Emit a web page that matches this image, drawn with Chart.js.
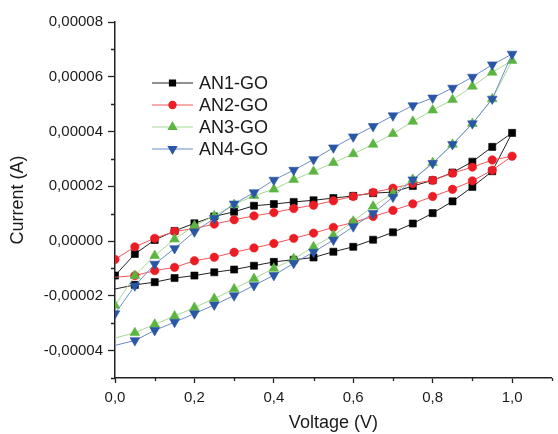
<!DOCTYPE html>
<html>
<head>
<meta charset="utf-8">
<script src="https://cdn.jsdelivr.net/npm/chart.js@4.4.1/dist/chart.umd.min.js"></script>
<style>
  body { margin: 0; background: #fff; }
  #wrap { width: 558px; height: 434px; }
</style>
</head>
<body>
<div id="wrap"><canvas id="cv" width="558" height="434"></canvas></div>
<script>
// sweep: forward 0 -> 1 V, then back 1 -> 0 V
const voltFwd = [0, 0.05, 0.10, 0.15, 0.20, 0.25, 0.30, 0.35, 0.40, 0.45, 0.50,
                 0.55, 0.60, 0.65, 0.70, 0.75, 0.80, 0.85, 0.90, 0.95, 1.00];
const voltRev = [0.95, 0.90, 0.85, 0.80, 0.75, 0.70, 0.65, 0.60, 0.55, 0.50,
                 0.45, 0.40, 0.35, 0.30, 0.25, 0.20, 0.15, 0.10, 0.05, 0];

const names = ['AN1-GO', 'AN2-GO', 'AN3-GO', 'AN4-GO'];

// current (A)
const an1Fwd = [-1.75e-5, -1.60e-5, -1.50e-5, -1.35e-5, -1.26e-5, -1.14e-5, -1.04e-5, -0.90e-5, -0.76e-5, -0.68e-5, -0.60e-5,
                -0.39e-5, -0.21e-5, 0.05e-5, 0.32e-5, 0.64e-5, 1.02e-5, 1.45e-5, 1.98e-5, 2.55e-5, 3.95e-5];
const an1Rev = [3.44e-5, 2.90e-5, 2.50e-5, 2.22e-5, 2.01e-5, 1.79e-5, 1.75e-5, 1.65e-5, 1.57e-5, 1.49e-5,
                1.43e-5, 1.35e-5, 1.29e-5, 1.07e-5, 0.90e-5, 0.65e-5, 0.37e-5, 0.04e-5, -0.47e-5, -1.26e-5];

const an2Fwd = [-1.32e-5, -1.26e-5, -1.08e-5, -0.96e-5, -0.72e-5, -0.59e-5, -0.41e-5, -0.25e-5, -0.09e-5, 0.10e-5, 0.29e-5,
                0.50e-5, 0.68e-5, 0.90e-5, 1.12e-5, 1.36e-5, 1.63e-5, 1.89e-5, 2.20e-5, 2.59e-5, 3.10e-5];
const an2Rev = [2.96e-5, 2.70e-5, 2.48e-5, 2.22e-5, 2.10e-5, 1.93e-5, 1.78e-5, 1.63e-5, 1.47e-5, 1.31e-5,
                1.19e-5, 1.04e-5, 0.92e-5, 0.78e-5, 0.62e-5, 0.46e-5, 0.35e-5, 0.10e-5, -0.21e-5, -0.67e-5];

const an3Fwd = [-3.54e-5, -3.35e-5, -3.04e-5, -2.74e-5, -2.43e-5, -2.10e-5, -1.75e-5, -1.37e-5, -1.00e-5, -0.65e-5, -0.21e-5,
                0.21e-5, 0.72e-5, 1.27e-5, 1.74e-5, 2.25e-5, 2.86e-5, 3.53e-5, 4.29e-5, 5.19e-5, 6.59e-5];
const an3Rev = [6.16e-5, 5.65e-5, 5.16e-5, 4.78e-5, 4.37e-5, 3.92e-5, 3.53e-5, 3.18e-5, 2.86e-5, 2.54e-5,
                2.24e-5, 1.89e-5, 1.66e-5, 1.33e-5, 0.92e-5, 0.56e-5, 0.07e-5, -0.53e-5, -1.26e-5, -2.35e-5];

const an4Fwd = [-3.81e-5, -3.63e-5, -3.26e-5, -2.96e-5, -2.65e-5, -2.33e-5, -1.99e-5, -1.62e-5, -1.25e-5, -0.81e-5, -0.40e-5,
                0.04e-5, 0.53e-5, 1.01e-5, 1.61e-5, 2.24e-5, 2.84e-5, 3.53e-5, 4.29e-5, 5.19e-5, 6.83e-5];
const an4Rev = [6.44e-5, 5.99e-5, 5.59e-5, 5.23e-5, 4.95e-5, 4.58e-5, 4.19e-5, 3.81e-5, 3.41e-5, 2.98e-5,
                2.59e-5, 2.23e-5, 1.77e-5, 1.36e-5, 0.83e-5, 0.34e-5, -0.27e-5, -0.84e-5, -1.63e-5, -2.65e-5];

const FONT = '"Liberation Sans", Arial, sans-serif';
const TXT = '#1a1a1a';

const looks = [
  { marker: '#000000', line: '#222222', shape: 'rect',     r: 5,   rot: 0 },
  { marker: '#ec1c24', line: '#f2555a', shape: 'circle',   r: 4.2, rot: 0 },
  { marker: '#5cb540', line: '#a6d995', shape: 'triangle', r: 5.6, rot: 0 },
  { marker: '#2a56a6', line: '#6d8ccc', shape: 'triangle', r: 5.6, rot: 180 }
];

function loop(fwd, rev) {
  const pts = voltFwd.map((v, i) => ({ x: v, y: fwd[i] }));
  return pts.concat(voltRev.map((v, i) => ({ x: v, y: rev[i] })));
}

const series = [[an1Fwd, an1Rev], [an2Fwd, an2Rev], [an3Fwd, an3Rev], [an4Fwd, an4Rev]];

const datasets = series.map((s, i) => {
  const lk = looks[i];
  return {
    label: names[i],
    data: loop(s[0], s[1]),
    showLine: true,
    borderColor: lk.line,
    borderWidth: 1,
    pointStyle: lk.shape,
    rotation: lk.rot,
    pointRadius: ctx => ctx.dataIndex === 0 ? 0 : lk.r,
    pointBackgroundColor: lk.marker,
    pointBorderColor: lk.marker,
    pointBorderWidth: 0.6,
    order: 4 - i
  };
});

const isMajorY = v => Math.round(v * 1e5) % 2 === 0;
const isMajorX = v => Math.round(v * 10) % 2 === 0;

// short minor ticks + legend inside the plot
const extras = {
  id: 'extras',
  afterDraw(chart) {
    const ctx = chart.ctx;
    const xs = chart.scales.x, ys = chart.scales.y;
    const area = chart.chartArea;
    ctx.save();
    ctx.strokeStyle = '#222';
    ctx.lineWidth = 1.3;
    ctx.beginPath();
    for (let k = -5; k <= 8; k++) {
      if (k % 2 === 0) continue;
      const py = Math.round(ys.getPixelForValue(k * 1e-5)) + 0.5;
      ctx.moveTo(area.left - 4, py);
      ctx.lineTo(area.left, py);
    }
    for (let k = 1; k <= 11; k += 2) {
      const px = Math.round(xs.getPixelForValue(k / 10)) + 0.5;
      ctx.moveTo(px, area.bottom);
      ctx.lineTo(px, area.bottom + 3);
    }
    ctx.stroke();

    // legend
    const lx = area.left + 37, ly = area.top + 61;
    ctx.font = '18px ' + FONT;
    ctx.textBaseline = 'middle';
    ctx.fillStyle = TXT;
    chart.data.datasets.forEach((ds, i) => {
      const lk = looks[i];
      const y = ly + i * 22;
      ctx.strokeStyle = lk.line;
      ctx.lineWidth = 1.2;
      ctx.beginPath();
      ctx.moveTo(lx, y);
      ctx.lineTo(lx + 41, y);
      ctx.stroke();
      ctx.fillStyle = lk.marker;
      ctx.strokeStyle = lk.marker;
      Chart.helpers.drawPoint(ctx, { pointStyle: lk.shape, radius: lk.r * 0.85, rotation: lk.rot, borderWidth: 0.6 }, lx + 20.5, y);
      ctx.fillStyle = TXT;
      ctx.fillText(ds.label, lx + 47, y + 1);
    });
    ctx.restore();
  }
};

new Chart(document.getElementById('cv'), {
  type: 'scatter',
  data: { datasets },
  options: {
    responsive: false,
    animation: false,
    events: [],
    layout: { padding: { top: 22, right: 2.5, left: 0, bottom: 0 } },
    plugins: { legend: { display: false }, tooltip: { enabled: false } },
    scales: {
      x: {
        type: 'linear',
        min: 0,
        max: 1.1,
        afterFit(s) { s.height = 56; s.paddingLeft = 0; s.paddingRight = 0; },
        border: { display: true, color: '#222', width: 1.5 },
        grid: {
          drawOnChartArea: false,
          tickLength: 5,
          tickWidth: 1.3,
          tickColor: c => isMajorX(c.tick.value) ? '#222' : 'rgba(0,0,0,0)'
        },
        ticks: {
          stepSize: 0.1,
          autoSkip: false,
          maxRotation: 0,
          padding: 6,
          color: TXT,
          font: { family: FONT, size: 15 },
          callback: v => (isMajorX(v) && v < 1.05) ? v.toFixed(1).replace('.', ',') : ''
        },
        title: {
          display: true,
          text: 'Voltage (V)',
          color: TXT,
          font: { family: FONT, size: 18 },
          padding: { top: 0, bottom: 0 }
        }
      },
      y: {
        type: 'linear',
        min: -5e-5,
        max: 8e-5,
        afterFit(s) { s.width = 115; s.paddingTop = 0; s.paddingBottom = 0; },
        border: { display: true, color: '#222', width: 1.5 },
        grid: {
          drawOnChartArea: false,
          tickLength: 7,
          tickWidth: 1.3,
          tickColor: c => isMajorY(c.tick.value) ? '#222' : 'rgba(0,0,0,0)'
        },
        ticks: {
          stepSize: 1e-5,
          autoSkip: false,
          padding: 5,
          color: TXT,
          font: { family: FONT, size: 15 },
          callback: v => isMajorY(v) ? (Math.round(v * 1e5) / 1e5).toFixed(5).replace('.', ',') : ''
        },
        title: {
          display: true,
          text: 'Current (A)',
          color: TXT,
          font: { family: FONT, size: 18 },
          padding: { top: 7, bottom: 0 }
        }
      }
    }
  },
  plugins: [extras]
});
</script>
</body>
</html>
